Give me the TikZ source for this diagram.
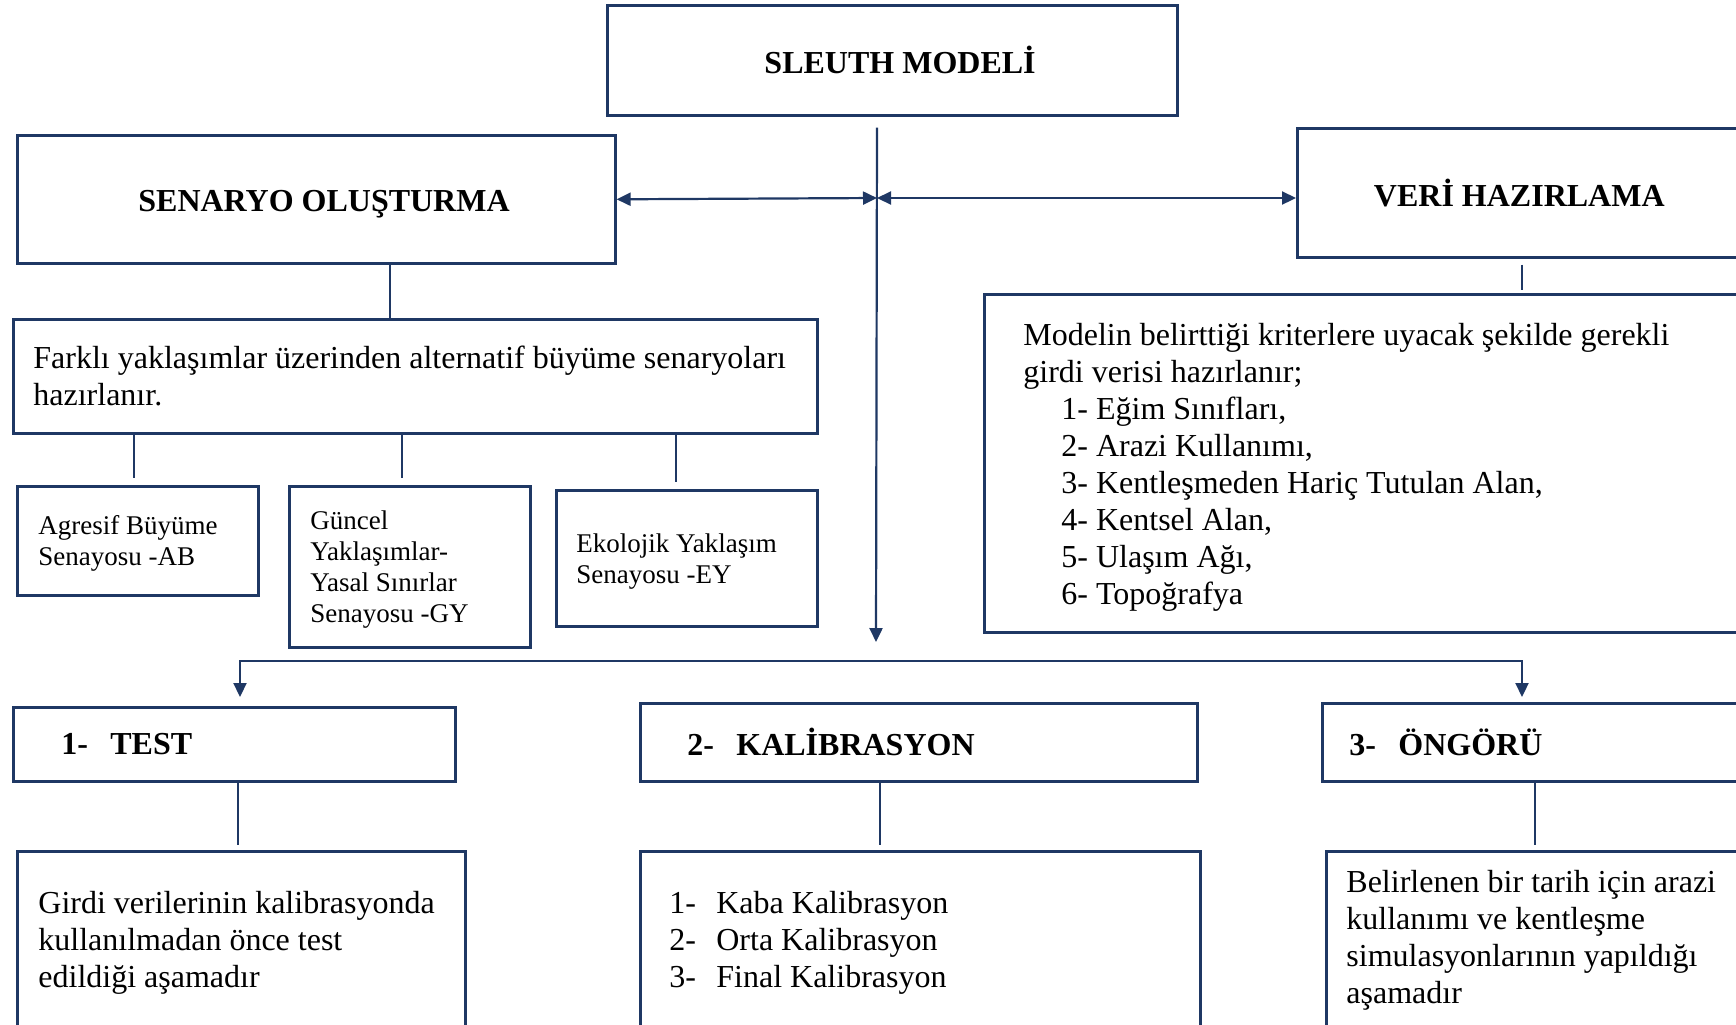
\documentclass[tikz,border=0pt]{standalone}
\usepackage{fontspec}
\setmainfont{Liberation Serif}
\usepackage{tikz}
\usetikzlibrary{arrows.meta, calc}
\definecolor{navy}{HTML}{1F3864}

\begin{document}
\begin{tikzpicture}[x=0.5pt, y=-0.5pt, >={Triangle[length=7pt, width=6.5pt]},
  box/.style={draw=navy, line width=1.3pt, anchor=north west, inner sep=0pt},
  boxsize/.style 2 args={minimum width=#1*0.5pt, minimum height=#2*0.5pt},
  head/.style={font=\fontsize{16}{18.5}\selectfont\bfseries},
  txt/.style={anchor=west, align=left, inner sep=0pt, font=\fontsize{16}{18.5}\selectfont},
  stxt/.style={anchor=west, align=left, inner sep=0pt, font=\fontsize{13.5}{15.5}\selectfont},
  htxt/.style={anchor=west, inner sep=0pt, font=\fontsize{16}{18.5}\selectfont\bfseries},
  line/.style={draw=navy, line width=1.1pt}]
  \useasboundingbox (0,0) rectangle (1736,1024);
  \clip (0,0) rectangle (1736,1024);

  \node[box, boxsize={570}{110}, head] (sleuth) at (606,4) {\hspace{7.75pt}SLEUTH MODELİ};
  \node[box, boxsize={598}{128}, head] (senaryo) at (16,134) {\raisebox{-5.85pt}[0pt][0pt]{\hspace{7.75pt}SENARYO OLUŞTURMA}};
  \node[box, boxsize={444}{129}, head] (veri) at (1296,127) {VERİ HAZIRLAMA};

  \node[box, boxsize={757}{338}] (kriter) at (983,293) {};
  \node[txt] (kriter-t) at ($(kriter.west)+(40,4)$) {Modelin belirttiği kriterlere uyacak şekilde gerekli\\
    girdi verisi hazırlanır;\\
    \hspace*{19pt}1- Eğim Sınıfları,\\
    \hspace*{19pt}2- Arazi Kullanımı,\\
    \hspace*{19pt}3- Kentleşmeden Hariç Tutulan Alan,\\
    \hspace*{19pt}4- Kentsel Alan,\\
    \hspace*{19pt}5- Ulaşım Ağı,\\
    \hspace*{19pt}6- Topoğrafya};

  \node[box, boxsize={804}{114}] (farkli) at (12,318) {};
  \node[txt] (farkli-t) at ($(farkli.west)+(21,0)$) {Farklı yaklaşımlar üzerinden alternatif büyüme senaryoları\\hazırlanır.};

  \node[box, boxsize={241}{109}] (ab) at (16,485) {};
  \node[stxt] (ab-t) at ($(ab.west)+(22,3)$) {Agresif Büyüme\\Senayosu -AB};
  \node[box, boxsize={241}{161}] (gy) at (288,485) {};
  \node[stxt] (gy-t) at ($(gy.west)+(22,3)$) {Güncel\\Yaklaşımlar-\\Yasal Sınırlar\\Senayosu -GY};
  \node[box, boxsize={261}{136}] (ey) at (555,489) {};
  \node[stxt] (ey-t) at ($(ey.west)+(21,3)$) {Ekolojik Yaklaşım\\Senayosu -EY};

  \node[box, boxsize={442}{74}] (test) at (12,706) {};
  \node[htxt] (test-t) at ($(test.west)+(49,0)$) {\makebox[24.5pt][l]{1-}TEST};
  \node[box, boxsize={557}{78}] (kalib) at (639,702) {};
  \node[htxt] (kalib-t) at ($(kalib.west)+(48,0)$) {\makebox[24.5pt][l]{2-}KALİBRASYON};
  \node[box, boxsize={419}{78}] (ongoru) at (1321,702) {};
  \node[htxt] (ongoru-t) at ($(ongoru.west)+(28,0)$) {\makebox[24.5pt][l]{3-}ÖNGÖRÜ};

  \node[box, boxsize={448}{184}] (testd) at (16,850) {};
  \node[txt] (testd-t) at ($(testd.west)+(22,0)$) {Girdi verilerinin kalibrasyonda\\kullanılmadan önce test\\edildiği aşamadır};
  \node[box, boxsize={560}{184}] (kalibd) at (639,850) {};
  \node[txt] (kalibd-t) at ($(kalibd.west)+(30,0)$) {\makebox[23.5pt][l]{1-}Kaba Kalibrasyon\\
    \makebox[23.5pt][l]{2-}Orta Kalibrasyon\\
    \makebox[23.5pt][l]{3-}Final Kalibrasyon};
  \node[box, boxsize={415}{178}] (ongorud) at (1325,850) {};
  \node[txt] (ongorud-t) at ($(ongorud.west)+(21,0)$) {Belirlenen bir tarih için arazi\\kullanımı ve kentleşme\\simulasyonlarının yapıldığı\\aşamadır};

  \coordinate (hub) at (877,198);
  \coordinate (hubend) at (876,642);
  \coordinate (xs) at (390,0);
  \coordinate (xv) at (1522,0);
  \coordinate (xab) at (134,0);
  \coordinate (xgy) at (402,0);
  \coordinate (xey) at (676,0);
  \coordinate (busl) at (240,661);
  \coordinate (busr) at (1522,661);
  \coordinate (xt) at (238,0);
  \coordinate (xk) at (880,0);
  \coordinate (xo) at (1535,0);

  \draw[line, ->] ($(sleuth.south -| hub)+(0,11)$) -- (hubend);
  \draw[line, <->] (senaryo.east) -- (hub);
  \draw[line, <->] (hub) -- (hub -| veri.west);
  \draw[line, shorten <=3pt, shorten >=1.5pt] (veri.south -| xv) -- (kriter.north -| xv);

  \draw[line] (senaryo.south -| xs) -- (farkli.north -| xs);
  \draw[line, shorten >=3.5pt] (farkli.south -| xab) -- (ab.north -| xab);
  \draw[line, shorten >=3.5pt] (farkli.south -| xgy) -- (gy.north -| xgy);
  \draw[line, shorten >=3.5pt] (farkli.south -| xey) -- (ey.north -| xey);

  \draw[line, <->, shorten <=4.5pt, shorten >=2.5pt] (test.north -| busl) -- (busl) -- (busr) -- (ongoru.north -| busr);

  \draw[line, shorten >=2.5pt] (test.south -| xt) -- (testd.north -| xt);
  \draw[line, shorten >=2.5pt] (kalib.south -| xk) -- (kalibd.north -| xk);
  \draw[line, shorten >=2.5pt] (ongoru.south -| xo) -- (ongorud.north -| xo);
\end{tikzpicture}
\end{document}
